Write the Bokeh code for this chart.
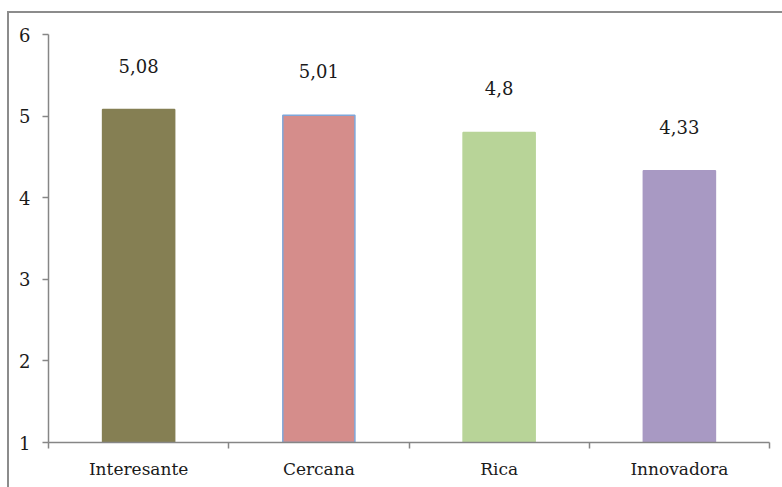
from bokeh.plotting import figure
from bokeh.models import ColumnDataSource, FixedTicker, Range1d
from bokeh.core.properties import value
from bokeh.embed import file_html
from bokeh.resources import INLINE

# Mean ratings per attribute
categories = ["Interesante", "Cercana", "Rica", "Innovadora"]
scores = [5.08, 5.01, 4.8, 4.33]
bar_colors = ["#857F53", "#D58D8B", "#B8D498", "#A899C3"]
bar_outlines = ["#857F53", "#7EA6D9", "#B8D498", "#A899C3"]
y_ticks = [1, 2, 3, 4, 5, 6]

FONT = "DejaVu Serif"
TEXT = "#1a1a1a"
AXIS = "#868686"

xs = [i + 0.5 for i in range(len(categories))]
labels = [f"{v:g}".replace(".", ",") for v in scores]

src = ColumnDataSource(dict(x=xs, top=scores, fill=bar_colors,
                            line=bar_outlines, label=labels))

p = figure(width=775, height=476, output_backend="svg", toolbar_location=None,
           x_range=Range1d(0, len(categories)), y_range=Range1d(1, 6),
           min_border_left=39, min_border_right=17, min_border_top=21,
           min_border_bottom=49)
p.margin = (11, 0, 0, 7)
p.styles = {"border-left": "2px solid #8c8c8c", "border-top": "2px solid #8c8c8c",
            "box-sizing": "content-box"}

p.vbar(x="x", top="top", bottom=1, width=0.4, source=src,
       fill_color="fill", line_color="line", line_width=1.5)

# value labels above each bar
p.text(x="x", y="top", text="label", source=src, y_offset=-44,
       text_align="center", text_baseline="middle",
       text_font=value(FONT), text_font_size="18px", text_color=TEXT)

p.xgrid.visible = False
p.ygrid.visible = False
p.outline_line_color = None

# x axis: labels at bar centres, tick marks at category boundaries
p.xaxis.ticker = FixedTicker(ticks=xs, minor_ticks=list(range(len(categories) + 1)))
p.xaxis.major_label_overrides = {x: c for x, c in zip(xs, categories)}
p.xaxis.major_tick_out = 0
p.xaxis.major_tick_in = 0
p.xaxis.minor_tick_out = 6
p.xaxis.minor_tick_in = 0
p.xaxis.minor_tick_line_color = AXIS
p.xaxis.minor_tick_line_width = 1.5
p.xaxis.major_label_standoff = 10

p.yaxis.ticker = FixedTicker(ticks=y_ticks, minor_ticks=[])
p.yaxis.major_tick_out = 6
p.yaxis.major_tick_in = 0
p.yaxis.major_label_standoff = 12

for ax in (p.xaxis, p.yaxis):
    ax.axis_line_color = AXIS
    ax.axis_line_width = 1.5
    ax.major_tick_line_color = AXIS
    ax.major_tick_line_width = 1.5
    ax.major_label_text_font = FONT
    ax.major_label_text_color = TEXT

p.xaxis.major_label_text_font_size = "17px"
p.yaxis.major_label_text_font_size = "18px"

open("out.html", "w").write(file_html(p, INLINE))
